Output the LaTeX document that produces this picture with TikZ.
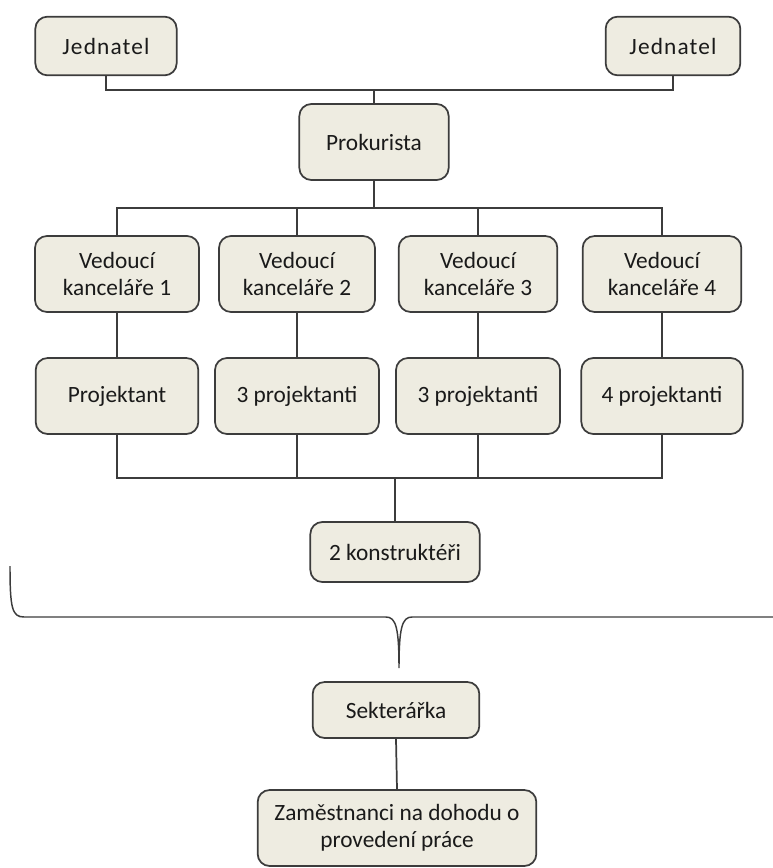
\documentclass[tikz,border=0pt]{standalone}
\usepackage{fontspec}
\setmainfont{Carlito}
\usepackage{xcolor}
\usepackage{tikz}
\usetikzlibrary{positioning,calc}

\definecolor{boxfill}{HTML}{EEECE1}
\definecolor{boxline}{HTML}{3C3C3C}
\definecolor{txt}{HTML}{1A1A1A}

\begin{document}
\begin{tikzpicture}[
    x=0.75pt, y=-0.75pt,
    obox/.style={draw=boxline,line width=1.3pt,rounded corners=9pt,fill=boxfill,
                 align=center,inner sep=2pt,text=txt,
                 font=\fontsize{17.5}{20.5}\selectfont,minimum height=57pt},
    lowbox/.style={obox,minimum height=44pt},
    topbox/.style={lowbox,font=\fontsize{17.5}{20.5}\selectfont\addfontfeatures{LetterSpace=5}},
    wire/.style={boxline,line width=1.3pt},
  ]
  \useasboundingbox (0,0) rectangle (773,868);

  % top: the two managers and the proxy
  \node[topbox,minimum width=106pt] (jl) at (106,46) {Jednatel};
  \node[topbox,minimum width=101pt] (jr) at (673,46) {Jednatel};
  \node[obox,minimum width=112pt] (pk) at (374,142) {Prokurista};

  % office heads
  \node[obox,minimum width=123pt] (v1) at (117,274) {Vedoucí\\kanceláře 1};
  \node[obox,minimum width=117pt] (v2) at (297,274) {Vedoucí\\kanceláře 2};
  \node[obox,minimum width=119pt] (v3) at (478,274) {Vedoucí\\kanceláře 3};
  \node[obox,minimum width=119pt] (v4) at (662,274) {Vedoucí\\kanceláře 4};

  % designers under each head
  \node[obox,minimum width=122pt] (p1) at (117,396) {Projektant};
  \node[obox,minimum width=123pt] (p2) at (297,396) {3 projektanti};
  \node[obox,minimum width=123pt] (p3) at (478,396) {3 projektanti};
  \node[obox,minimum width=121pt] (p4) at (662,396) {4 projektanti};

  \node[lowbox,minimum width=127pt,minimum height=45pt] (ko) at (395,552) {2 konstruktéři};

  % below the brace
  \node[lowbox,minimum width=125pt,minimum height=42pt] (se) at (396,710) {Sekterářka};
  \node[obox,minimum width=209pt] (dp) at (397,828) {Zaměstnanci na dohodu o\\provedení práce};

  % bus points
  \coordinate (busA) at (374,90);
  \coordinate (busB) at (374,208);
  \coordinate (busC) at (395,478);

  % --- connectors ---
  \draw[wire] (jl.south) |- (busA) -- (pk.north);
  \draw[wire] (jr.south) |- (busA);
  \draw[wire] (pk.south) -- (busB);
  \foreach \v in {v1,v2,v3,v4}
    \draw[wire] (busB) -| (\v.north);
  \foreach \i in {1,2,3,4} {
    \draw[wire] (v\i.south) -- (p\i.north);
    \draw[wire] (p\i.south) |- (busC);
  }
  \draw[wire] (busC) -- (ko.north);
  \draw[wire] (se.south) -- (dp.north);

  % --- brace over the whole office ---
  \draw[wire,line width=1.1pt] (10,566) .. controls (10,608) and (12,617) .. (24,617)
    -- (386,617) .. controls (396,617) and (399,628) .. (399,668)
    .. controls (399,628) and (402,617) .. (412,617) -- (773,617);

\end{tikzpicture}
\end{document}
